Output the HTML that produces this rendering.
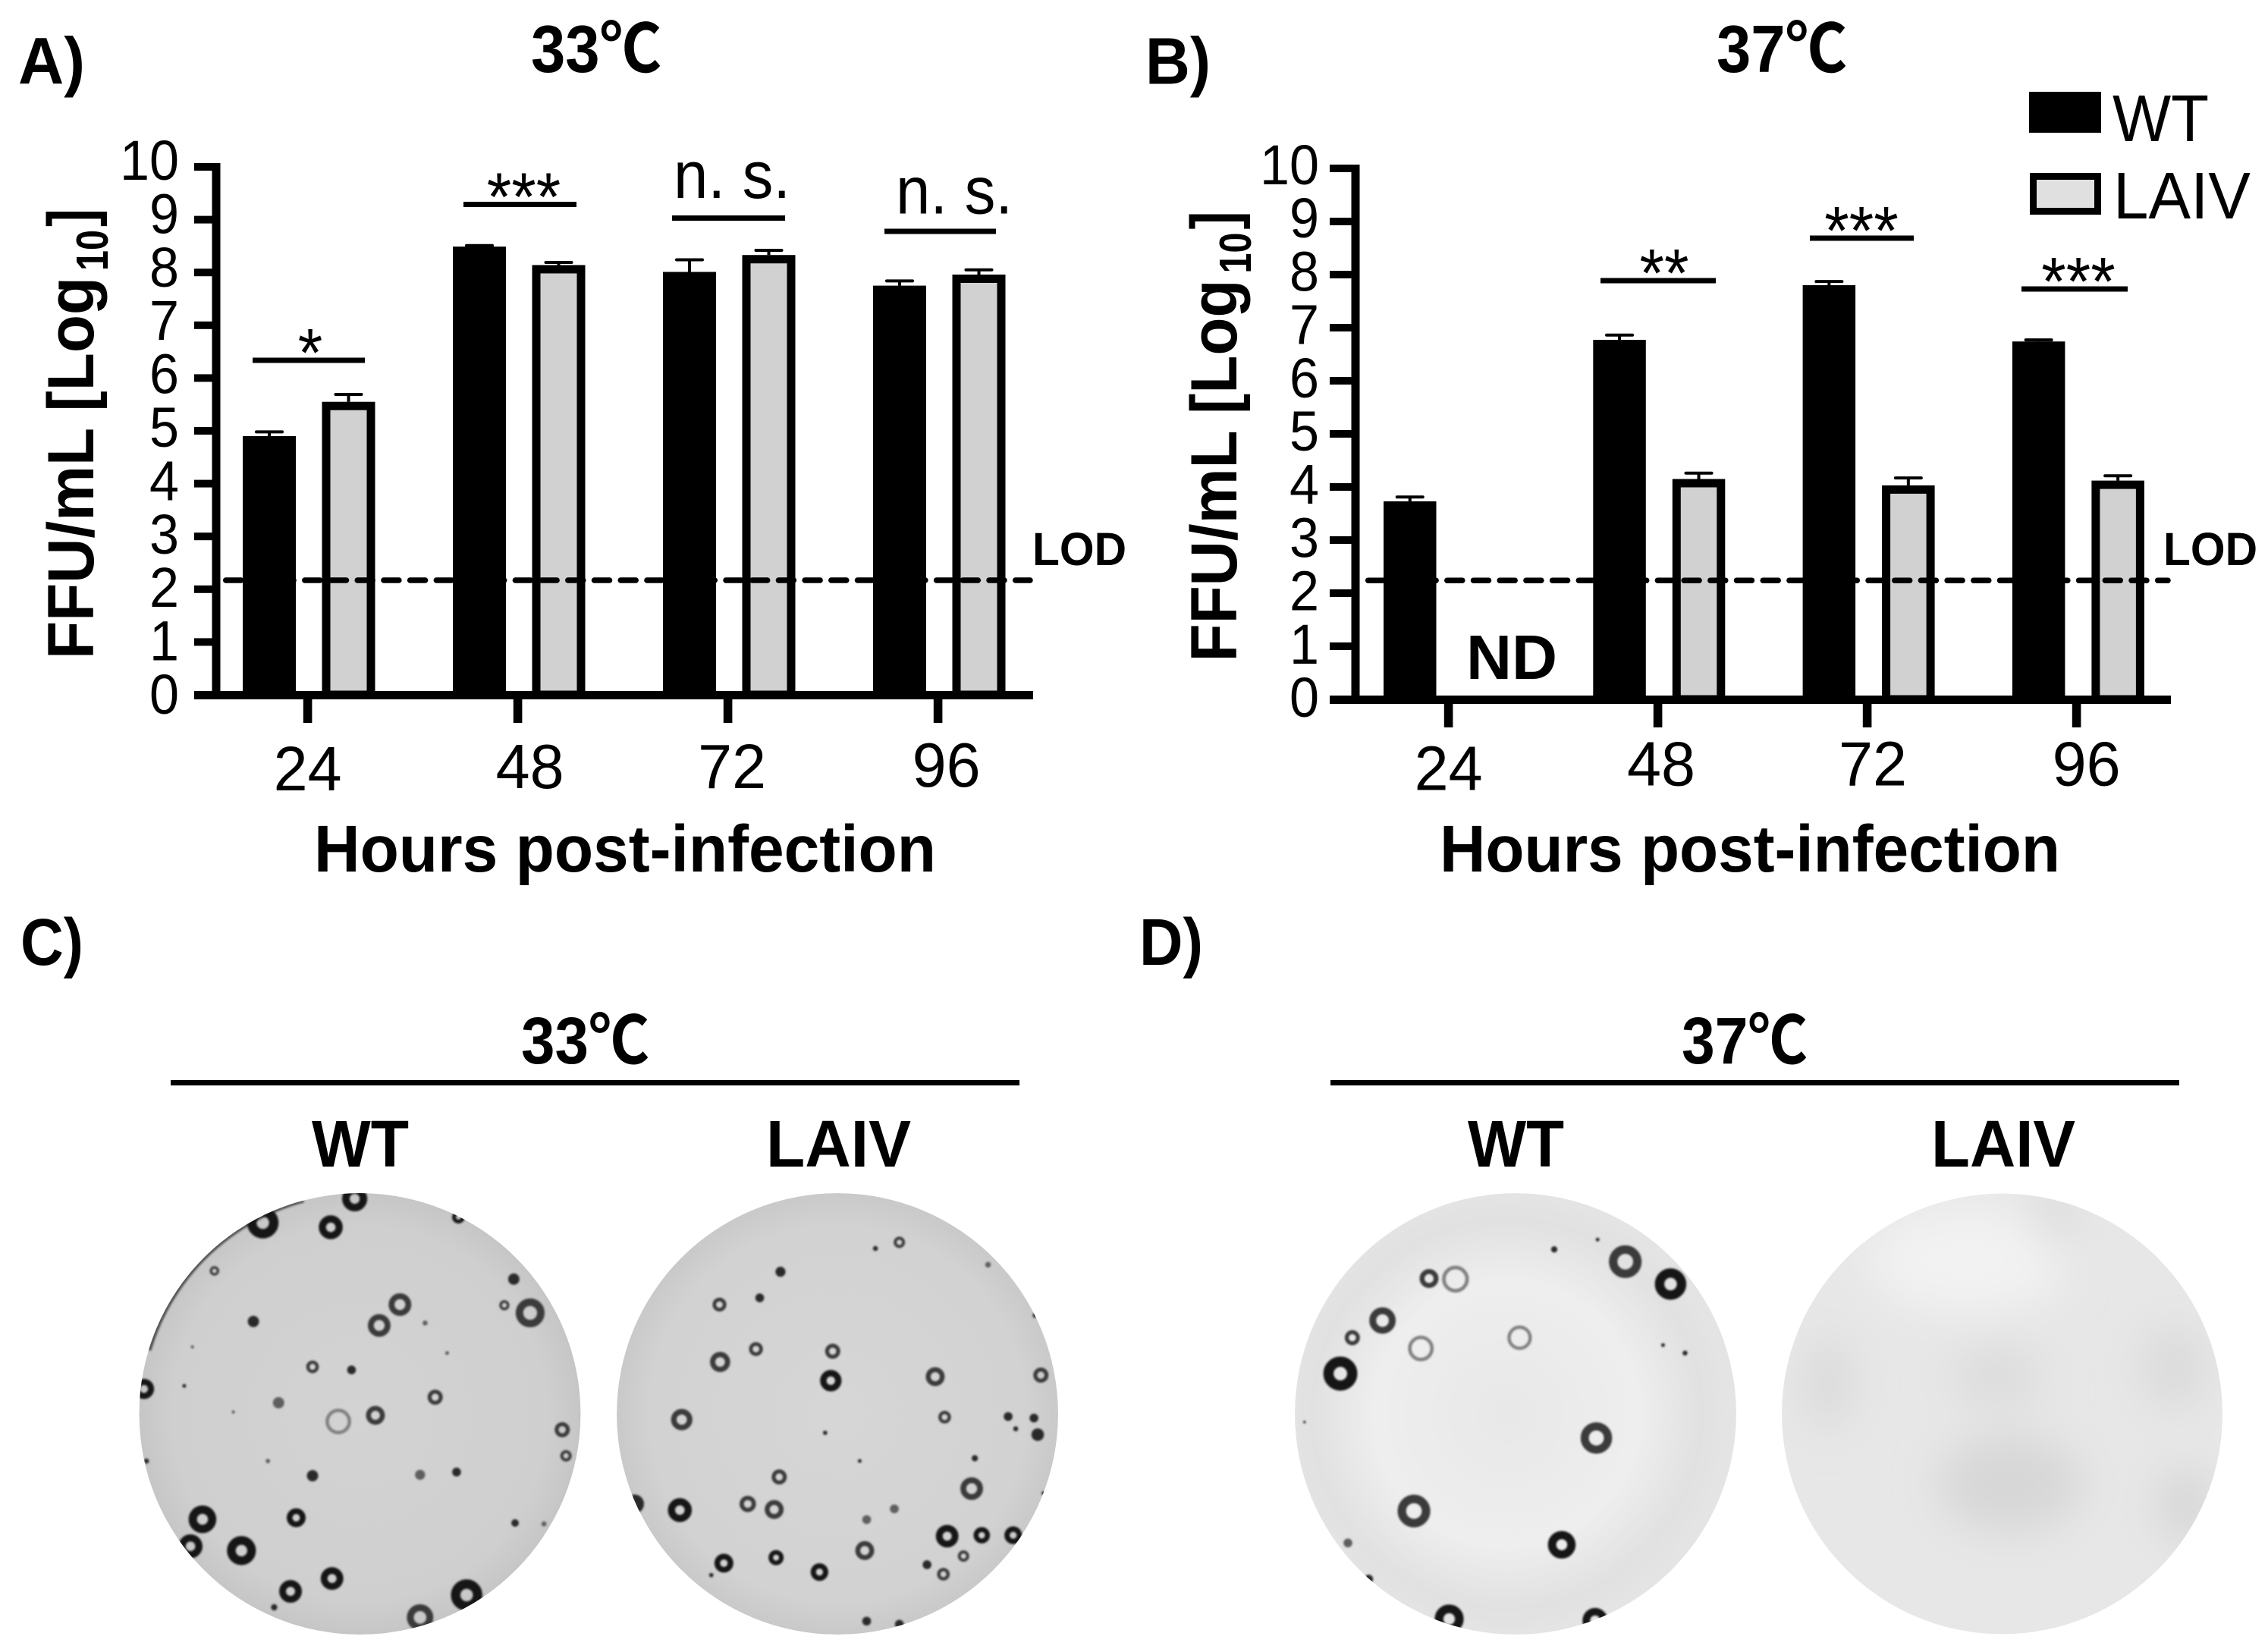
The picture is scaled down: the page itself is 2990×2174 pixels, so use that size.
<!DOCTYPE html>
<html lang="en">
<head>
<meta charset="utf-8">
<title>Viral growth kinetics and plaque phenotype at 33°C and 37°C</title>
<style>
html,body{margin:0;padding:0;background:#fff;}
svg{display:block;}
text{font-family:"Liberation Sans","Noto Sans CJK SC",sans-serif;fill:#000;}
.b{font-weight:700;}
</style>
</head>
<body>
<svg id="figure" xmlns="http://www.w3.org/2000/svg" width="2990" height="2174" viewBox="0 0 2990 2174">
<defs>
<filter id="soft" x="-20%" y="-20%" width="140%" height="140%"><feGaussianBlur stdDeviation="1.3"/></filter>
<filter id="cloud" x="-30%" y="-30%" width="160%" height="160%"><feGaussianBlur stdDeviation="28"/></filter>
<radialGradient id="plateGradA" cx="50%" cy="50%" r="50%"><stop offset="0%" stop-color="#d3d3d3"/><stop offset="85%" stop-color="#cfcfcf"/><stop offset="100%" stop-color="#c6c6c6"/></radialGradient>
<radialGradient id="plateGradB" cx="50%" cy="50%" r="50%"><stop offset="0%" stop-color="#d6d6d6"/><stop offset="85%" stop-color="#d2d2d2"/><stop offset="100%" stop-color="#c9c9c9"/></radialGradient>
<radialGradient id="plateGradC" cx="48%" cy="50%" r="50%"><stop offset="0%" stop-color="#e8e8e8"/><stop offset="60%" stop-color="#eeeeee"/><stop offset="88%" stop-color="#e1e1e1"/><stop offset="100%" stop-color="#e4e4e4"/></radialGradient>
<clipPath id="clip-plate-1"><circle cx="474.5" cy="1864" r="291"/></clipPath>
<clipPath id="clip-plate-2"><circle cx="1104" cy="1864" r="291"/></clipPath>
<clipPath id="clip-plate-3"><circle cx="1998" cy="1864" r="291"/></clipPath>
<clipPath id="clip-plate-4"><circle cx="2639.5" cy="1864" r="290.5"/></clipPath>
</defs>

<text class="b" x="24" y="110.7" font-size="87" textLength="88" lengthAdjust="spacingAndGlyphs">A)</text>
<text class="b" x="700" y="95" font-size="88" textLength="172" lengthAdjust="spacingAndGlyphs">33℃</text>
<text class="b" x="1510" y="110.7" font-size="87" textLength="86" lengthAdjust="spacingAndGlyphs">B)</text>
<text class="b" x="2263" y="95" font-size="88" textLength="172" lengthAdjust="spacingAndGlyphs">37℃</text>

<g id="chart-a"></g>
<g id="chart-b"></g>

<g>
<rect x="2675" y="121" width="95" height="54" fill="#000"/>
<text x="2785" y="186" font-size="87" textLength="127" lengthAdjust="spacingAndGlyphs">WT</text>
<rect x="2680.5" y="232.5" width="85" height="46" fill="#e0e0e0" stroke="#000" stroke-width="9"/>
<text x="2786" y="288" font-size="87" textLength="181" lengthAdjust="spacingAndGlyphs">LAIV</text>
</g>

<text class="b" x="27" y="1272" font-size="87" textLength="83" lengthAdjust="spacingAndGlyphs">C)</text>
<text class="b" x="687" y="1402" font-size="87" textLength="169" lengthAdjust="spacingAndGlyphs">33℃</text>
<rect x="225" y="1424" width="1119" height="7" fill="#000"/>
<text class="b" x="411" y="1538" font-size="87" textLength="128" lengthAdjust="spacingAndGlyphs">WT</text>
<text class="b" x="1010" y="1538" font-size="87" textLength="191" lengthAdjust="spacingAndGlyphs">LAIV</text>

<text class="b" x="1502" y="1272" font-size="87" textLength="84" lengthAdjust="spacingAndGlyphs">D)</text>
<text class="b" x="2217" y="1402" font-size="87" textLength="166" lengthAdjust="spacingAndGlyphs">37℃</text>
<rect x="1754" y="1424" width="1119" height="7" fill="#000"/>
<text class="b" x="1935" y="1538" font-size="87" textLength="127" lengthAdjust="spacingAndGlyphs">WT</text>
<text class="b" x="2546" y="1538" font-size="87" textLength="190" lengthAdjust="spacingAndGlyphs">LAIV</text>

<g clip-path="url(#clip-plate-1)">
<circle cx="474.5" cy="1864" r="291" fill="url(#plateGradA)"/>
<path d="M196 1780 A291 291 0 0 1 400 1582" fill="none" stroke="#555" stroke-width="7" filter="url(#soft)"/>
<g id="spots-1" filter="url(#soft)"></g>
</g>
<g clip-path="url(#clip-plate-2)">
<circle cx="1104" cy="1864" r="291" fill="url(#plateGradB)"/>
<g id="spots-2" filter="url(#soft)"></g>
</g>
<g clip-path="url(#clip-plate-3)">
<circle cx="1998" cy="1864" r="291" fill="url(#plateGradC)"/>
<g id="spots-3" filter="url(#soft)"></g>
</g>
<g clip-path="url(#clip-plate-4)">
<circle cx="2639.5" cy="1864" r="290.5" fill="#e7e7e7"/>
<g filter="url(#cloud)">
<ellipse cx="2592" cy="1661" rx="130" ry="70" fill="#f2f2f2"/>
<ellipse cx="2410" cy="1823" rx="30" ry="60" fill="#d9d9d9"/>
<ellipse cx="2633" cy="1815" rx="60" ry="40" fill="#dcdcdc"/>
<ellipse cx="2866" cy="1803" rx="42" ry="55" fill="#dadada"/>
<ellipse cx="2650" cy="1956" rx="95" ry="65" fill="#d7d7d7"/>
<ellipse cx="2882" cy="1985" rx="36" ry="50" fill="#d5d5d5"/>
<ellipse cx="2708" cy="1593" rx="26" ry="55" fill="#dddddd"/>
</g>
</g>

<script>
// ---------- Chart data ----------
const categories = ['24', '48', '72', '96'];
const yTickValues = [0, 1, 2, 3, 4, 5, 6, 7, 8, 9, 10];

const wt33 = [4.9, 8.49, 8.01, 7.75];
const laiv33 = [5.55, 8.14, 8.33, 7.96];
const wt33Err = [0.08, 0.02, 0.23, 0.09];
const laiv33Err = [0.14, 0.05, 0.09, 0.09];
const lod33 = [2.17];
const sig33 = ['*', '***', 'n. s.', 'n. s.'];

const wt37 = [3.73, 6.77, 7.8, 6.74];
const laiv37 = [null, 4.15, 4.03, 4.12];
const wt37Err = [0.08, 0.09, 0.07, 0.03];
const laiv37Err = [0, 0.11, 0.14, 0.09];
const lod37 = [2.24];
const sig37 = ['', '**', '***', '***'];

// ---------- Plate plaques: zoom-space x, y, diameter, tone ----------
const spots1 = [[383,100,40,'d'],[237,178,50,'d'],[345,193,38,'d'],[160,335,15,'m'],[636,362,18,'f'],[455,445,36,'m'],[422,513,36,'m'],[662,472,46,'m'],[621,447,16,'m'],[222,500,18,'f'],[495,505,8,'g'],[316,648,20,'m'],[378,658,14,'f'],[48,720,32,'d'],[112,710,6,'f'],[511,747,24,'m'],[262,765,18,'g'],[357,826,42,'l'],[416,806,30,'m'],[713,853,24,'m'],[719,938,18,'m'],[52,955,8,'f'],[245,955,7,'g'],[316,1003,18,'f'],[487,1000,16,'g'],[545,991,14,'f'],[141,1145,44,'d'],[290,1140,30,'d'],[638,1157,12,'f'],[684,1160,8,'g'],[122,1233,38,'d'],[203,1247,46,'d'],[347,1338,36,'d'],[281,1380,36,'d'],[561,1392,50,'d'],[487,1465,42,'m'],[255,1432,10,'f'],[548,160,20,'d'],[530,603,6,'g'],[125,583,5,'g'],[190,795,5,'g']];
const spots2 = [[1249,242,18,'m'],[1211,262,8,'f'],[1060,338,16,'f'],[1390,315,9,'g'],[1027,423,14,'f'],[963,445,22,'m'],[1021,590,22,'m'],[964,632,32,'m'],[1143,597,24,'m'],[1140,693,34,'d'],[1306,680,30,'m'],[1474,675,24,'m'],[903,820,34,'m'],[1321,812,20,'m'],[1422,810,14,'f'],[1463,815,14,'f'],[1434,850,8,'f'],[1469,869,20,'f'],[1131,863,7,'f'],[1186,955,6,'f'],[1369,946,10,'f'],[1058,1007,24,'m'],[1364,1045,36,'m'],[828,1095,30,'f'],[900,1115,38,'d'],[1008,1095,26,'m'],[1050,1113,30,'m'],[1241,1111,14,'g'],[1197,1146,14,'g'],[1325,1200,36,'d'],[1380,1197,26,'d'],[1430,1197,28,'d'],[1194,1247,30,'m'],[1351,1265,18,'m'],[1053,1270,24,'d'],[970,1288,30,'d'],[1122,1317,28,'d'],[1293,1293,14,'f'],[1319,1324,20,'m'],[950,1327,7,'f'],[1197,1477,14,'f'],[1249,1487,14,'f'],[1465,480,8,'f'],[1478,1060,6,'f']];
const spots3 = [[558,305,52,'m'],[630,378,50,'d'],[246,360,30,'m'],[288,362,44,'l'],[172,497,42,'m'],[124,553,24,'m'],[233,588,42,'l'],[390,553,40,'l'],[105,670,54,'d'],[512,880,50,'m'],[222,1118,52,'m'],[457,1228,44,'d'],[278,1470,46,'d'],[510,1475,40,'d'],[445,265,10,'f'],[514,233,6,'f'],[618,577,6,'f'],[653,603,8,'f'],[117,1222,14,'g'],[48,828,4,'f'],[150,1340,14,'f']];

// ---------- Helpers ----------
const NS = 'http://www.w3.org/2000/svg';
function mk(parent, tag, attrs, txt) {
  const n = document.createElementNS(NS, tag);
  for (const k in attrs) n.setAttribute(k, attrs[k]);
  if (txt !== undefined) n.textContent = txt;
  parent.appendChild(n);
  return n;
}

function drawChart(rootId, cfg, wt, laiv, wtErr, laivErr, lod, sig) {
  const root = document.getElementById(rootId);
  const yScale = v => cfg.y0 - v * cfg.unit;
  const xGroup = i => cfg.barStart + i * cfg.spacing;

  // y axis
  const yAxis = mk(root, 'rect', {x: cfg.axisX - 5.5, y: yScale(10) - 5, width: 11, height: cfg.y0 - yScale(10) + 10, fill: '#000'});
  
  
  yTickValues.forEach(v => {
    const t = mk(root, 'rect', {x: cfg.tickLeft, y: yScale(v) - 5, width: cfg.axisX - cfg.tickLeft, height: 10, fill: '#000'});
    
    
    const l = mk(root, 'text', {x: cfg.yLabelRight, y: yScale(v) + cfg.yLabelBase - v * cfg.yLabelDrift, 'font-size': 74, 'text-anchor': 'end', textLength: String(v).length * 39, lengthAdjust: 'spacingAndGlyphs'}, String(v));
    
    
  });

  // y title
  const yt = mk(root, 'text', {class: 'b', transform: 'translate(' + cfg.yTitleX + ',' + cfg.yTitleBottom + ') rotate(-90)', 'font-size': 86, textLength: 504, lengthAdjust: 'spacingAndGlyphs'}, 'FFU/mL [Log');
  
  
  const ys = mk(root, 'text', {class: 'b', transform: 'translate(' + (cfg.yTitleX + 19) + ',' + (cfg.yTitleBottom - 512) + ') rotate(-90)', 'font-size': 59, textLength: 54, lengthAdjust: 'spacingAndGlyphs'}, '10');
  
  
  const yb = mk(root, 'text', {class: 'b', transform: 'translate(' + cfg.yTitleX + ',' + (cfg.yTitleBottom - 570) + ') rotate(-90)', 'font-size': 86, textLength: 24, lengthAdjust: 'spacingAndGlyphs'}, ']');
  
  

  // bars and error bars
  categories.forEach((c, i) => {
    const wx = xGroup(i);
    const wv = wt[i];
    const wCx = wx + cfg.barW / 2;
    const eTop = yScale(wv + wtErr[i]);
    const stem = mk(root, 'rect', {x: wCx - 2, y: eTop, width: 4, height: yScale(wv) - eTop, fill: '#000'});
    
    
    const cap = mk(root, 'rect', {x: wCx - 19, y: eTop - 2, width: 38, height: 4, rx: 2, fill: '#000'});
    
    
    const bar = mk(root, 'rect', {x: wx, y: yScale(wv), width: cfg.barW, height: cfg.y0 - yScale(wv), fill: '#000'});
    
    

    if (laiv[i] !== null) {
      const lx = wx + cfg.laivOffset;
      const lv = laiv[i];
      const lCx = lx + cfg.barW / 2;
      const lTop = yScale(lv + laivErr[i]);
      const lStem = mk(root, 'rect', {x: lCx - 2, y: lTop, width: 4, height: yScale(lv) - lTop, fill: '#000'});
      
      
      const lCap = mk(root, 'rect', {x: lCx - 19, y: lTop - 2, width: 38, height: 4, rx: 2, fill: '#000'});
      
      
      const lBar = mk(root, 'rect', {x: lx + 5.5, y: yScale(lv) + 5.5, width: cfg.barW - 11, height: cfg.y0 - yScale(lv) - 5.5, fill: '#d1d1d1', stroke: '#000', 'stroke-width': 11});
      
      
    }
  });

  // LOD dashed line
  const lodLine = mk(root, 'line', {x1: cfg.lodStart, x2: cfg.xEnd - 4, y1: yScale(lod[0]), y2: yScale(lod[0]), stroke: '#000', 'stroke-width': 7.5, 'stroke-linecap': 'round', 'stroke-dasharray': '20 14.7', 'stroke-dashoffset': cfg.lodPhase});
  
  
  const lodText = mk(root, 'text', {class: 'b', x: cfg.lodTextX, y: 745, 'font-size': 61, textLength: 124, lengthAdjust: 'spacingAndGlyphs'}, 'LOD');
  
  

  // x axis
  const xAxis = mk(root, 'rect', {x: cfg.tickLeft, y: cfg.y0 - 5, width: cfg.xEnd - cfg.tickLeft, height: 11, fill: '#000'});
  
  
  categories.forEach((c, i) => {
    const tx = cfg.xTickStart + i * cfg.xTickStep;
    const tick = mk(root, 'rect', {x: tx - 5.8, y: cfg.y0, width: 11.6, height: 37, fill: '#000'});
    
    
    const lab = mk(root, 'text', {x: tx + cfg.xLabelNudge[i], y: cfg.xLabelY - cfg.xLabelRise[i], 'font-size': 83, 'text-anchor': 'middle', textLength: 90, lengthAdjust: 'spacingAndGlyphs'}, c);
    
    
  });
  const xt = mk(root, 'text', {class: 'b', x: cfg.xTitleX, y: 1149, 'font-size': 87, textLength: cfg.xTitleW, lengthAdjust: 'spacingAndGlyphs'}, 'Hours post-infection');
  
  

  // significance annotations
  sig.forEach((s, i) => {
    const g = cfg.sigLayout[i];
    if (!s) return;
    const line = mk(root, 'rect', {x: g.x1, y: g.y - 3.5, width: g.x2 - g.x1, height: 7, fill: '#000'});
    
    
    const isStar = s.indexOf('*') >= 0;
    const w = isStar ? s.length * 32.5 : 154;
    const st = mk(root, 'text', {x: g.tx - w / 2, y: isStar ? g.y + 21 : g.ty, 'font-size': isStar ? 90 : 88, textLength: w, lengthAdjust: 'spacingAndGlyphs'}, s);
    
    
  });
}

drawChart('chart-a', {
  axisX: 285, tickLeft: 256, xEnd: 1362, y0: 916, unit: 69.6,
  barStart: 320, spacing: 277, barW: 70, laivOffset: 104.5,
  xTickStart: 405.6, xTickStep: 277, xLabelNudge: [0, 16, 5.5, 11], xLabelRise: [0, 3, 3, 5], xLabelY: 1042,
  yLabelRight: 236, yLabelBase: 25, yLabelDrift: 0.8,
  yTitleX: 123, yTitleBottom: 869, lodStart: 289, lodPhase: 26, lodTextX: 1361,
  xTitleX: 414, xTitleW: 820,
  sigLayout: [{x1: 333, x2: 481, y: 475, tx: 409}, {x1: 611, x2: 760, y: 269.5, tx: 690.5}, {x1: 886, x2: 1035, y: 287.5, tx: 965, ty: 261}, {x1: 1166, x2: 1313, y: 305, tx: 1258, ty: 281.5}]
}, wt33, laiv33, wt33Err, laiv33Err, lod33, sig33);

drawChart('chart-b', {
  axisX: 1787, tickLeft: 1753, xEnd: 2862, y0: 922, unit: 70,
  barStart: 1824, spacing: 276.3, barW: 69.5, laivOffset: 104.5,
  xTickStart: 1909.6, xTickStep: 276, xLabelNudge: [0, 4.4, 7.4, 13], xLabelRise: [0, 6, 6, 6], xLabelY: 1041.5,
  yLabelRight: 1739, yLabelBase: 23, yLabelDrift: 0.2,
  yTitleX: 1630, yTitleBottom: 872.5, lodStart: 1795, lodPhase: 26, lodTextX: 2852,
  xTitleX: 1898, xTitleW: 818,
  sigLayout: [{}, {x1: 2110, x2: 2262, y: 370, tx: 2194}, {x1: 2386, x2: 2523, y: 314, tx: 2454}, {x1: 2665, x2: 2805, y: 381, tx: 2740}]
}, wt37, laiv37, wt37Err, laiv37Err, lod37, sig37);

// ND marker
const ndRoot = document.getElementById('chart-b');
const nd = mk(ndRoot, 'text', {class: 'b', x: 1933, y: 895, 'font-size': 83, textLength: 120, lengthAdjust: 'spacingAndGlyphs'}, 'ND');



// ---------- Plaques ----------
function drawSpots(id, spots, ox) {
  const g = document.getElementById(id);
  spots.forEach(s => {
    const cx = ox + s[0] / 1.206;
    const cy = 1540 + s[1] / 2.473;
    const d = s[2] / 1.206;
    const tone = s[3];
    let attrs;
    if (tone === 'f') attrs = {r: d / 2, fill: '#2a2a2a'};
    else if (tone === 'g') attrs = {r: d / 2, fill: '#5f5f5f'};
    else if (tone === 'd') attrs = {r: d * 0.35, fill: 'none', stroke: '#141414', 'stroke-width': d * 0.3};
    else if (tone === 'm') attrs = {r: d * 0.37, fill: 'none', stroke: '#3a3a3a', 'stroke-width': d * 0.26};
    else attrs = {r: d * 0.42, fill: 'none', stroke: '#808080', 'stroke-width': d * 0.13};
    attrs.cx = cx;
    attrs.cy = cy;
    const p = mk(g, 'circle', attrs);
    
    
  });
}
drawSpots('spots-1', spots1, 150);
drawSpots('spots-2', spots2, 150);
drawSpots('spots-3', spots3, 1680);
</script>
</svg>
</body>
</html>
